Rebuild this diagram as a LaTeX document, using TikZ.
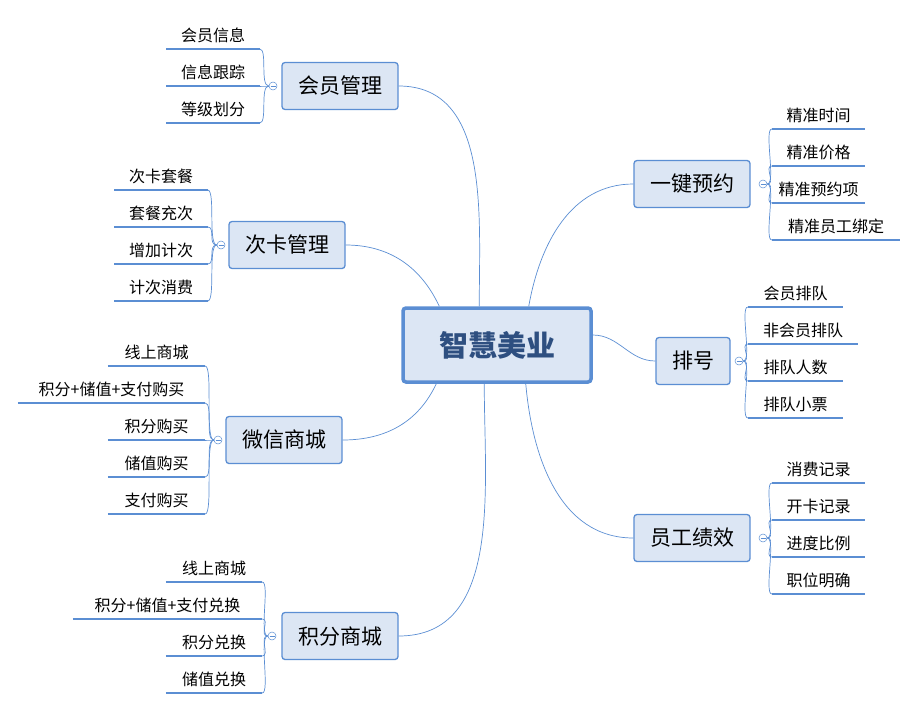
\documentclass[tikz,border=0pt]{standalone}
\usepackage{fontspec}
\setmainfont{Noto Sans CJK SC}
\usetikzlibrary{calc}
\definecolor{lineblue}{HTML}{5B8ED3}
\definecolor{boxfill}{HTML}{DCE6F4}
\definecolor{titleblue}{HTML}{2E4F80}
\tikzset{
  root/.style={draw=lineblue,line width=3.5pt,fill=boxfill,rounded corners=3pt,minimum width=188pt,minimum height=74pt,font=\fontsize{29}{30}\selectfont\bfseries,text=titleblue},
  branch/.style={draw=lineblue,line width=1.3pt,fill=boxfill,rounded corners=3pt,minimum height=47pt,minimum width=116pt,font=\fontsize{21}{22}\selectfont},
  leaf/.style={inner sep=0pt,minimum height=26pt,anchor=south,font=\fontsize{16}{17}\selectfont,
    append after command={(\tikzlastnode.south west) edge[draw=lineblue,line width=1.6pt] (\tikzlastnode.south east)}},
  fold/.style={circle,draw=lineblue,fill=white,line width=.5pt,inner sep=0pt,minimum size=8pt,
    path picture={\draw[lineblue,line width=.5pt] ($(path picture bounding box.west)+(1.5pt,0)$) -- ($(path picture bounding box.east)+(-1.5pt,0)$);}},
  link/.style={draw=lineblue,line width=.7pt},
}
\begin{document}
\begin{tikzpicture}[x=1pt,y=-1pt]
    \useasboundingbox (0,0) rectangle (917,709);
    \node[root] (root) at (497,345) {智慧美业};
    % left branches
    \node[branch] (member) at (340,86) {会员管理};
    \node[branch] (card) at (287,245) {次卡管理};
    \node[branch] (wechat) at (284,440) {微信商城};
    \node[branch] (points) at (340,636) {积分商城};
    % right branches
    \node[branch] (booking) at (692,184) {一键预约};
    \node[branch,minimum width=74pt] (queue) at (693,361) {排号};
    \node[branch] (staff) at (692,538) {员工绩效};
    \draw[link] (member.east) to[out=0,in=90] ([xshift=78]root.north west);
    \draw[link] (card.east) to[out=0,in=115] ([xshift=38]root.north west);
    \draw[link] (wechat.east) to[out=0,in=-115] ([xshift=35]root.south west);
    \draw[link] (points.east) to[out=0,in=-90] ([xshift=83]root.south west);
    \draw[link] (booking.west) to[out=180,in=80] ([xshift=-64]root.north east);
    \draw[link] (queue.west) to[out=180,in=0] ([yshift=10]root.east);
    \draw[link] (staff.west) to[out=180,in=-85] ([xshift=-67]root.south east);
    % folds
    \node[fold] (f-member) at (273,86) {};
    \node[fold] (f-card) at (221,245) {};
    \node[fold] (f-wechat) at (218,440) {};
    \node[fold] (f-points) at (272,636) {};
    \node[fold] (f-booking) at (763,184) {};
    \node[fold] (f-queue) at (739,361) {};
    \node[fold] (f-staff) at (763,538) {};
    % leaves
    \node[leaf,minimum width=93pt] (m1) at (213,49) {会员信息};
    \node[leaf,minimum width=93pt] (m2) at (213,86) {信息跟踪};
    \node[leaf,minimum width=93pt] (m3) at (213,123) {等级划分};
    \node[leaf,minimum width=93pt] (c1) at (161,190) {次卡套餐};
    \node[leaf,minimum width=93pt] (c2) at (161,227) {套餐充次};
    \node[leaf,minimum width=93pt] (c3) at (161,264) {增加计次};
    \node[leaf,minimum width=93pt] (c4) at (161,301) {计次消费};
    \node[leaf,minimum width=97pt] (w1) at (156.5,366) {线上商城};
    \node[leaf,minimum width=187pt] (w2) at (111.5,403) {积分+储值+支付购买};
    \node[leaf,minimum width=97pt] (w3) at (156.5,440) {积分购买};
    \node[leaf,minimum width=97pt] (w4) at (156.5,477) {储值购买};
    \node[leaf,minimum width=97pt] (w5) at (156.5,514) {支付购买};
    \node[leaf,minimum width=96pt] (p1) at (214,582) {线上商城};
    \node[leaf,minimum width=189pt] (p2) at (167.5,619) {积分+储值+支付兑换};
    \node[leaf,minimum width=96pt] (p3) at (214,656) {积分兑换};
    \node[leaf,minimum width=96pt] (p4) at (214,693) {储值兑换};
    \node[leaf,minimum width=93pt] (b1) at (818.5,129) {精准时间};
    \node[leaf,minimum width=93pt] (b2) at (818.5,166) {精准价格};
    \node[leaf,minimum width=93pt] (b3) at (818.5,203) {精准预约项};
    \node[leaf,minimum width=128pt] (b4) at (836,240) {精准员工绑定};
    \node[leaf,minimum width=95pt] (q1) at (795.5,307) {会员排队};
    \node[leaf,minimum width=110pt] (q2) at (803,344) {非会员排队};
    \node[leaf,minimum width=95pt] (q3) at (795.5,381) {排队人数};
    \node[leaf,minimum width=95pt] (q4) at (795.5,418) {排队小票};
    \node[leaf,minimum width=93pt] (s1) at (818.5,483) {消费记录};
    \node[leaf,minimum width=93pt] (s2) at (818.5,520) {开卡记录};
    \node[leaf,minimum width=93pt] (s3) at (818.5,557) {进度比例};
    \node[leaf,minimum width=93pt] (s4) at (818.5,594) {职位明确};
    \foreach \f/\l in {member/m1,member/m2,member/m3,card/c1,card/c2,card/c3,card/c4,
        wechat/w1,wechat/w2,wechat/w3,wechat/w4,wechat/w5,points/p1,points/p2,points/p3,points/p4}
      \draw[link] (f-\f.west) .. controls +(-9,0) and +(8,0) .. (\l.south east);
    \foreach \f/\l in {booking/b1,booking/b2,booking/b3,booking/b4,queue/q1,queue/q2,queue/q3,queue/q4,
        staff/s1,staff/s2,staff/s3,staff/s4}
      \draw[link] (f-\f.east) .. controls +(9,0) and +(-8,0) .. (\l.south west);
\end{tikzpicture}
\end{document}
